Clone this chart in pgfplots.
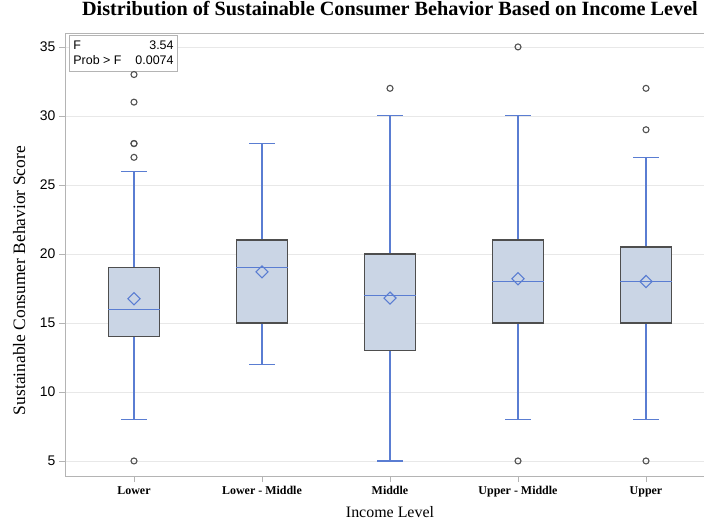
\documentclass[border=0pt]{standalone}
\usepackage{fontspec}
\setmainfont{Liberation Serif}
\newfontfamily\arial{Liberation Sans}
\usepackage{pgfplots}
\pgfplotsset{compat=1.18}
\usepgfplotslibrary{statistics}

\definecolor{boxfill}{HTML}{CAD5E5}
\definecolor{boxline}{HTML}{4E4E4E}
\definecolor{wblue}{HTML}{5A7DD2}
\definecolor{outl}{HTML}{505050}
\definecolor{gridc}{HTML}{E8E8E8}
\definecolor{framec}{HTML}{B4B4B4}

\pgfplotsset{
  boxplot/every box/.style={draw=boxline, fill=boxfill, line width=1.3pt},
  boxplot/every whisker/.style={draw=wblue, line width=1.1pt},
  boxplot/every median/.style={draw=wblue, line width=1.1pt},
  mybox/.style={solid, draw=wblue, line width=1.1pt,
    mark=o, mark size=3bp, mark options={draw=outl, fill=none, line width=1.1pt, solid},
    boxplot/draw direction=y,
    boxplot/box extend=0.4,
    boxplot/whisker extend=0.2},
}

\begin{document}
\begin{tikzpicture}
\path[use as bounding box] (-65bp,-49bp) rectangle (639bp,476bp);
\begin{axis}[
  at={(0,0)}, anchor=south west,
  scale only axis, width=650bp, height=443bp,
  xmin=-0.539, xmax=4.539, ymin=3.91, ymax=36.01,
  xtick={0,1,2,3,4},
  xticklabels={Lower, Lower - Middle, Middle, Upper - Middle, Upper},
  ytick={5,10,...,35},
  xtick pos=bottom, ytick pos=left,
  ymajorgrids, grid style={gridc, line width=0.8pt},
  axis line style={framec, line width=0.8pt},
  tick align=outside, major tick length=6bp,
  tick style={framec, line width=0.8pt},
  x tick label style={font=\fontsize{12}{14}\selectfont\bfseries, anchor=base, yshift=-12bp},
  y tick label style={font=\arial\fontsize{14}{16}\selectfont},
  /pgf/number format/assume math mode=true,
  title={Distribution of Sustainable Consumer Behavior Based on Income Level},
  title style={at={(axis description cs:0.5,1.0271)}, anchor=base, font=\fontsize{20.3}{23}\selectfont\bfseries},
  xlabel={Income Level},
  xlabel style={at={(axis description cs:0.5,-0.0926)}, anchor=base, font=\fontsize{16}{18}\selectfont},
  ylabel={Sustainable Consumer Behavior Score},
  ylabel style={at={(axis description cs:-0.0615,0.441)}, anchor=base, font=\fontsize{17.5}{20}\selectfont},
]
\addplot+[mybox, boxplot prepared={draw position=0, lower whisker=8, lower quartile=14, median=16, upper quartile=19, upper whisker=26}]
  table[row sep=\\, y index=0] {y\\5\\27\\28\\28\\31\\33\\};
\addplot+[mybox, boxplot prepared={draw position=1, lower whisker=12, lower quartile=15, median=19, upper quartile=21, upper whisker=28}]
  coordinates {};
\addplot+[mybox, boxplot prepared={draw position=2, lower whisker=5, lower quartile=13, median=17, upper quartile=20, upper whisker=30}]
  table[row sep=\\, y index=0] {y\\32\\};
\addplot+[mybox, boxplot prepared={draw position=3, lower whisker=8, lower quartile=15, median=18, upper quartile=21, upper whisker=30}]
  table[row sep=\\, y index=0] {y\\5\\35\\};
\addplot+[mybox, boxplot prepared={draw position=4, lower whisker=8, lower quartile=15, median=18, upper quartile=20.5, upper whisker=27}]
  table[row sep=\\, y index=0] {y\\5\\29\\32\\};
% medians (blue line across the box)
\addplot[only marks, mark=-, mark size=24.5bp, mark options={draw=wblue, line width=1.1pt, solid}]
  coordinates {(0,16) (1,19) (2,17) (3,18) (4,18)};
% whisker caps
\addplot[only marks, mark=-, mark size=12.8bp, mark options={draw=wblue, line width=1.1pt, solid}]
  coordinates {(0,8) (0,26) (1,12) (1,28) (2,5) (2,30) (3,8) (3,30) (4,8) (4,27)};
% means
\addplot[only marks, mark=square, mark size=4.3bp, mark options={rotate=45, draw=wblue, line width=1.1pt, fill=none}]
  coordinates {(0,16.75) (1,18.7) (2,16.8) (3,18.2) (4,18.0)};
\node[draw=framec, fill=white, line width=0.8pt, anchor=north west, inner xsep=4bp, inner ysep=2bp,
  font=\arial\fontsize{12.5}{16}\selectfont]
  at ([shift={(4bp,-2.5bp)}]rel axis cs:0,1)
  {\begin{tabular}{@{}l@{\hspace{14bp}}r@{}}F & 3.54\\ Prob > F & 0.0074\end{tabular}};
\end{axis}
\end{tikzpicture}
\end{document}
